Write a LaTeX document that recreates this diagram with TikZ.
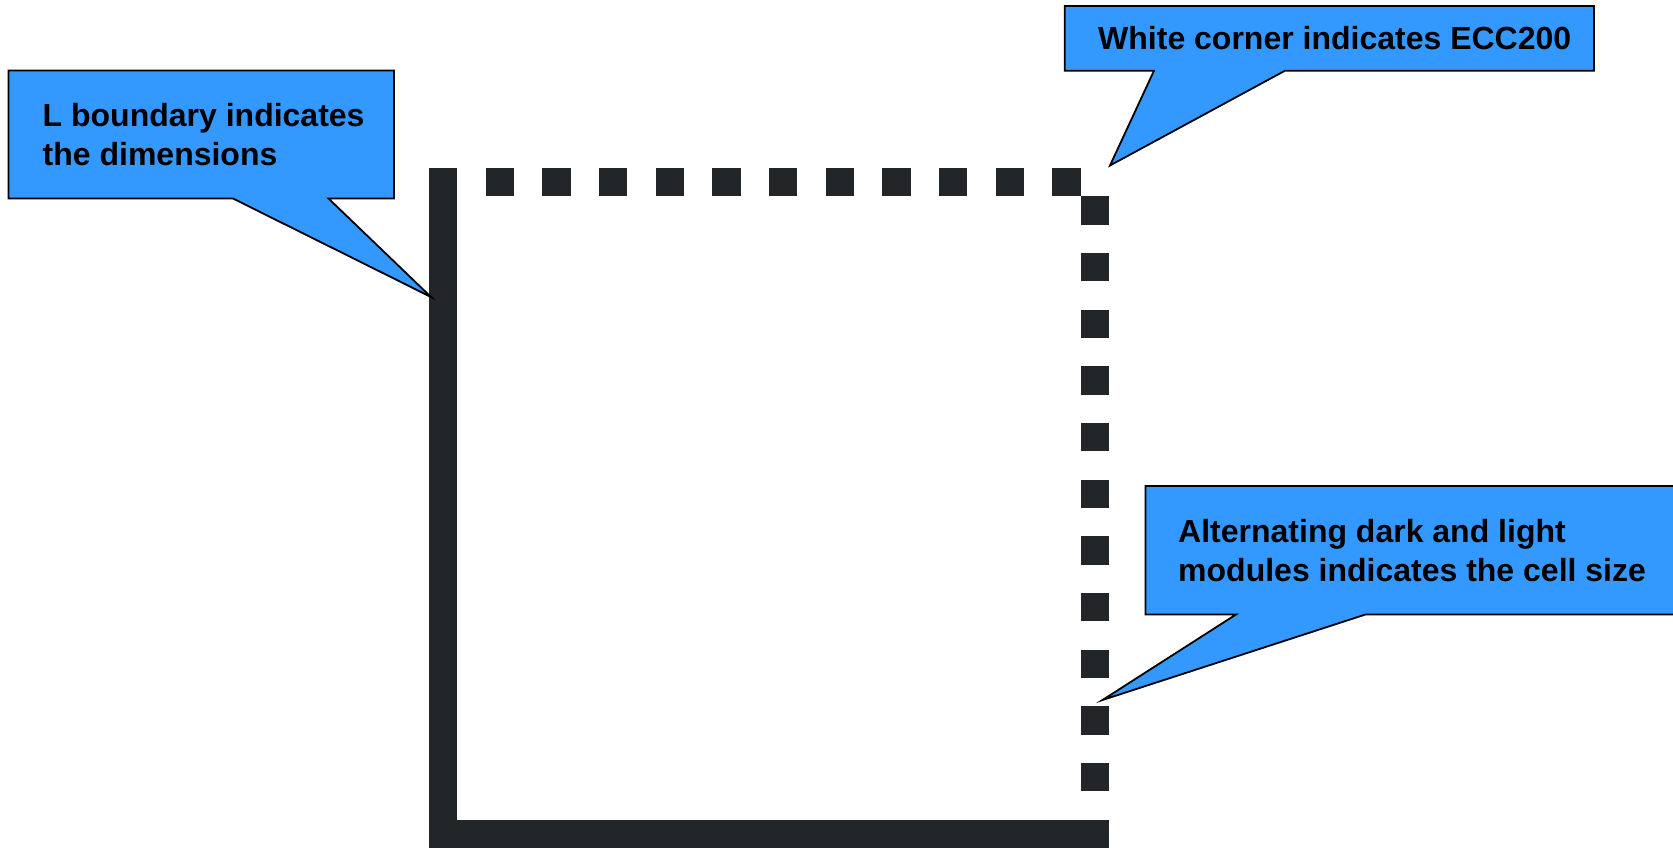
\documentclass[tikz,border=0pt]{standalone}
\usepackage{fontspec}
\setmainfont{Liberation Sans}
\definecolor{calloutblue}{RGB}{51,153,255}
\definecolor{moduledark}{RGB}{35,38,41}
\tikzset{
  callout/.style={fill=calloutblue, draw=black, line width=1.8pt, line join=miter},
  module/.style={fill=moduledark},
  calltext/.style={anchor=base west, inner sep=0pt, font=\fontsize{32}{39}\selectfont\bfseries}
}
\begin{document}
\begin{tikzpicture}[x=1pt,y=-1pt]
\useasboundingbox (0,0) rectangle (1673,848);
\def\m{28.333}
% Data Matrix finder pattern
\fill[module] (429,168) rectangle (457.33,848);
\fill[module] (429,{168+23*\m}) rectangle (1109,848);
\foreach \i in {2,4,...,22} \fill[module] ({429+\i*\m},168) rectangle ++(\m,\m);
\foreach \j in {1,3,...,21} \fill[module] ({429+23*\m},{168+\j*\m}) rectangle ++(\m,\m);
% Callout 1
\coordinate (tipL) at (431,297);
\draw[callout] (8.5,70.5) -- (394,70.5) -- (394,198.5) -- (328.5,198.5) -- (tipL) -- (233,198.5) -- (8.5,198.5) -- cycle;
\node[calltext] (tL) at (42.5,126.5) {\begin{tabular}[t]{@{}l@{}}L boundary indicates\\the dimensions\end{tabular}};
% Callout 2
\coordinate (tipW) at (1110,165.5);
\draw[callout] (1064.7,6) -- (1594,6) -- (1594,70.7) -- (1285,70.7) -- (tipW) -- (1154,70.7) -- (1064.7,70.7) -- cycle;
\node[calltext] (tW) at (1098,50) {White corner indicates ECC200};
% Callout 3
\coordinate (tipA) at (1102.5,700);
\draw[callout] (1145.5,486) -- (1680,486) -- (1680,614.5) -- (1365.5,614.5) -- (tipA) -- (1236,614.5) -- (1145.5,614.5) -- cycle;
\node[calltext] (tA) at (1178,542) {\begin{tabular}[t]{@{}l@{}}Alternating dark and light\\modules indicates the cell size\end{tabular}};
\end{tikzpicture}
\end{document}
